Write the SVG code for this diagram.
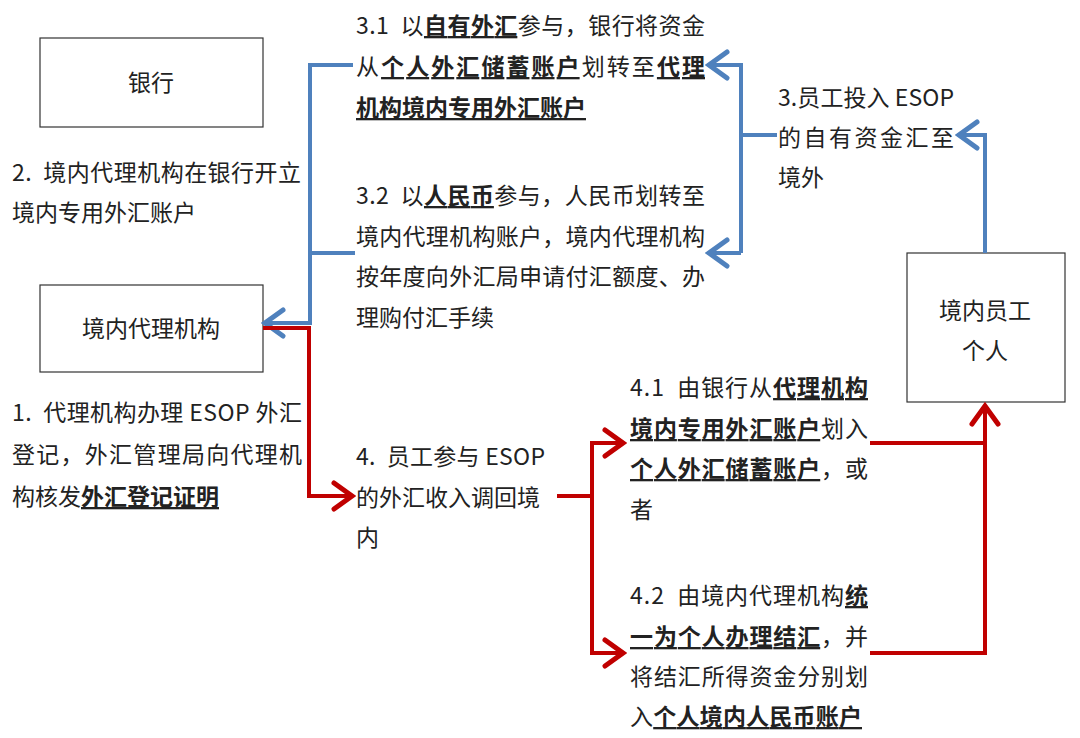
<svg xmlns="http://www.w3.org/2000/svg" width="1080" height="738" viewBox="0 0 1080 738">
<style>
text{font-family:"Noto Sans CJK SC","Noto Sans",sans-serif;font-size:23px;fill:#222}
.b{font-weight:bold;text-decoration:underline}
.box{fill:#fff;stroke:#333;stroke-width:1.2}
.mid{text-anchor:middle}
.blue{fill:none;stroke:#4f81bd;stroke-width:4}
.red{fill:none;stroke:#c00000;stroke-width:4}
</style>
<defs>
<marker id="ab" markerUnits="userSpaceOnUse" markerWidth="30" markerHeight="34" viewBox="0 0 30 34" refX="26" refY="17" orient="auto">
<path d="M8,4 L26,17 L8,30" fill="none" stroke="#4f81bd" stroke-width="5" stroke-linecap="round" stroke-linejoin="miter"/>
</marker>
<marker id="ar" markerUnits="userSpaceOnUse" markerWidth="30" markerHeight="34" viewBox="0 0 30 34" refX="26" refY="17" orient="auto">
<path d="M8,4 L26,17 L8,30" fill="none" stroke="#c00000" stroke-width="5" stroke-linecap="round" stroke-linejoin="miter"/>
</marker>
</defs>
<rect width="1080" height="738" fill="#fff"/>

<g id="bank"><rect class="box" x="40" y="38" width="223" height="89"/><text class="mid" x="151" y="91">银行</text></g>
<g id="agent"><rect class="box" x="40" y="285" width="223" height="87"/><text class="mid" x="151" y="337">境内代理机构</text></g>
<g id="employee"><rect class="box" x="907" y="253" width="158" height="149"/><text class="mid" x="985" y="319">境内员工</text><text class="mid" x="985" y="359">个人</text></g>

<g id="connectors">
<path class="blue" d="M985,253 V135 H959" marker-end="url(#ab)"/>
<path class="blue" d="M777,135 H741"/>
<path class="blue" d="M741,253 V65 H709" marker-end="url(#ab)"/>
<path class="blue" d="M741,253 H709" marker-end="url(#ab)"/>
<path class="blue" d="M353,65 H310 V323 H265" marker-end="url(#ab)"/>
<path class="blue" d="M355,253 H310"/>
<path class="red" d="M263,328 H309 V496 H352" marker-end="url(#ar)"/>
<path class="red" d="M557,496 H592"/>
<path class="red" d="M592,496 V443 H623" marker-end="url(#ar)"/>
<path class="red" d="M592,496 V653 H623" marker-end="url(#ar)"/>
<path class="red" d="M870,443 H985"/>
<path class="red" d="M870,653 H985 V406" marker-end="url(#ar)"/>
</g>

<g id="label-3-1">
<text x="356" y="34" textLength="349" lengthAdjust="spacing">3.1&#160; 以<tspan class="b">自有外汇</tspan>参与，银行将资金</text>
<text x="356" y="75" textLength="349" lengthAdjust="spacing">从<tspan class="b">个人外汇储蓄账户</tspan>划转至<tspan class="b">代理</tspan></text>
<text x="356" y="116"><tspan class="b">机构境内专用外汇账户</tspan></text>
</g>
<g id="label-3-2">
<text x="356" y="204" textLength="349" lengthAdjust="spacing">3.2&#160; 以<tspan class="b">人民币</tspan>参与，人民币划转至</text>
<text x="356" y="245" textLength="349" lengthAdjust="spacing">境内代理机构账户，境内代理机构</text>
<text x="356" y="285" textLength="349" lengthAdjust="spacing">按年度向外汇局申请付汇额度、办</text>
<text x="356" y="326">理购付汇手续</text>
</g>
<g id="label-2">
<text x="12" y="181" textLength="289" lengthAdjust="spacing">2.&#160; 境内代理机构在银行开立</text>
<text x="12" y="221">境内专用外汇账户</text>
</g>
<g id="label-1">
<text x="12" y="421" textLength="290" lengthAdjust="spacing">1.&#160; 代理机构办理 ESOP 外汇</text>
<text x="12" y="463" textLength="290" lengthAdjust="spacing">登记，外汇管理局向代理机</text>
<text x="12" y="505">构核发<tspan class="b">外汇登记证明</tspan></text>
</g>
<g id="label-3">
<text x="778" y="106" textLength="176" lengthAdjust="spacing">3.员工投入 ESOP</text>
<text x="778" y="146" textLength="176" lengthAdjust="spacing">的自有资金汇至</text>
<text x="778" y="186">境外</text>
</g>
<g id="label-4">
<text x="356" y="465" textLength="189" lengthAdjust="spacing">4.&#160; 员工参与 ESOP</text>
<text x="356" y="506">的外汇收入调回境</text>
<text x="356" y="546">内</text>
</g>
<g id="label-4-1">
<text x="630" y="396" textLength="238" lengthAdjust="spacing">4.1&#160; 由银行从<tspan class="b">代理机构</tspan></text>
<text x="630" y="437" textLength="238" lengthAdjust="spacing"><tspan class="b">境内专用外汇账户</tspan>划入</text>
<text x="630" y="477" textLength="238" lengthAdjust="spacing"><tspan class="b">个人外汇储蓄账户</tspan>，或</text>
<text x="630" y="518">者</text>
</g>
<g id="label-4-2">
<text x="630" y="604" textLength="238" lengthAdjust="spacing">4.2&#160; 由境内代理机构<tspan class="b">统</tspan></text>
<text x="630" y="645" textLength="238" lengthAdjust="spacing"><tspan class="b">一为个人办理结汇</tspan>，并</text>
<text x="630" y="685" textLength="238" lengthAdjust="spacing">将结汇所得资金分别划</text>
<text x="630" y="725" textLength="232" lengthAdjust="spacing">入<tspan class="b">个人境内人民币账户</tspan></text>
</g>
</svg>
